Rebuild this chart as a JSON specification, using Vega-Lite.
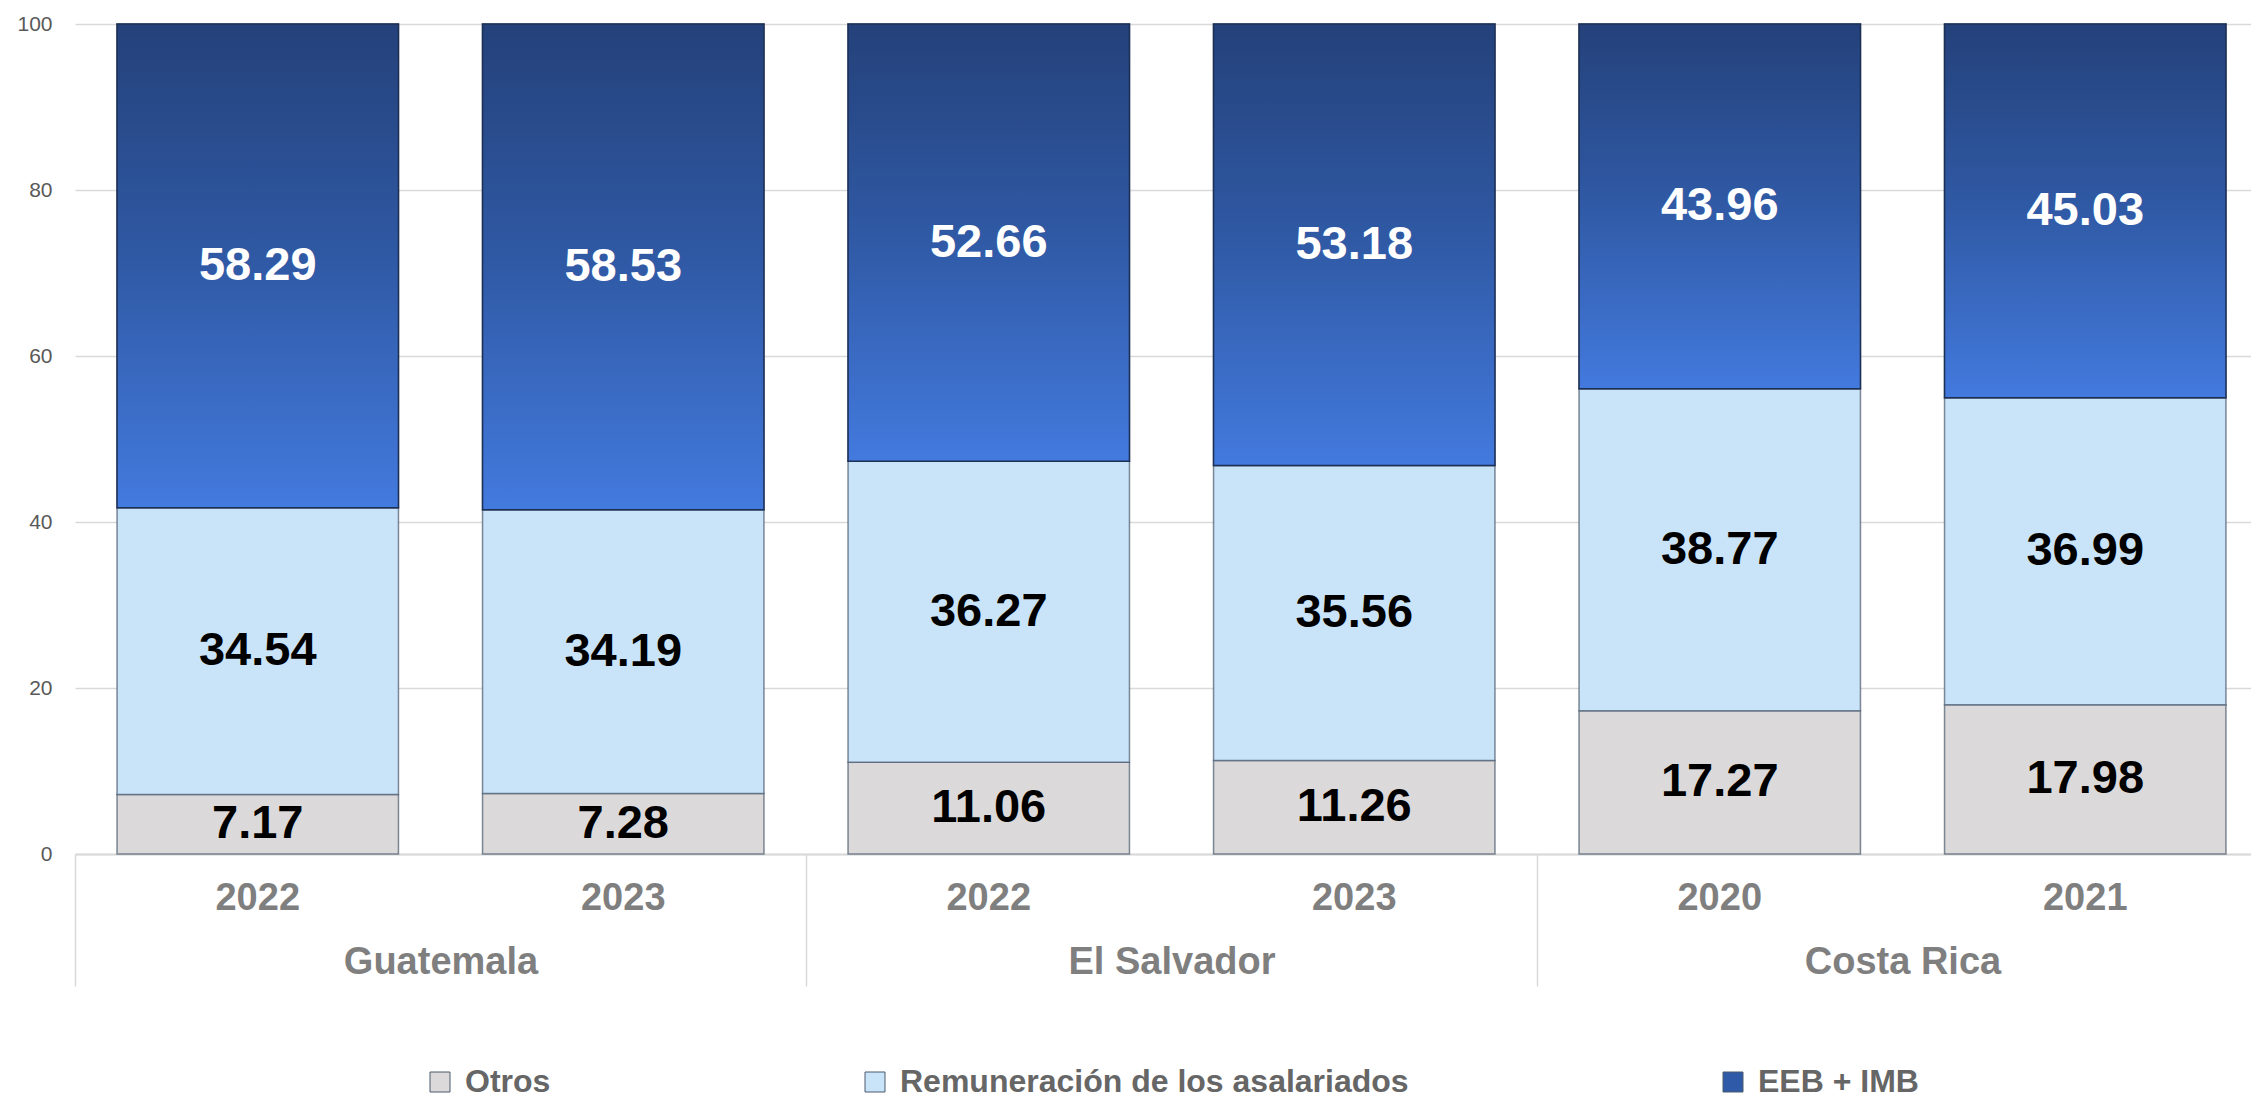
{
  "$schema": "https://vega.github.io/schema/vega-lite/v6.json",
  "autosize": "none",
  "padding": {"left": 75, "top": 24, "right": 0, "bottom": 246},
  "width": 2176,
  "height": 830,
  "background": "white",
  "config": {"font": "Liberation Sans", "view": {"stroke": null}},
  "data": {"values": [
    {"pais": "Guatemala", "anio": "2022", "clave": "Guatemala|2022", "componente": "Otros", "orden": 1, "valor": 7.17},
    {"pais": "Guatemala", "anio": "2022", "clave": "Guatemala|2022", "componente": "Remuneración de los asalariados", "orden": 2, "valor": 34.54},
    {"pais": "Guatemala", "anio": "2022", "clave": "Guatemala|2022", "componente": "EEB + IMB", "orden": 3, "valor": 58.29},
    {"pais": "Guatemala", "anio": "2023", "clave": "Guatemala|2023", "componente": "Otros", "orden": 1, "valor": 7.28},
    {"pais": "Guatemala", "anio": "2023", "clave": "Guatemala|2023", "componente": "Remuneración de los asalariados", "orden": 2, "valor": 34.19},
    {"pais": "Guatemala", "anio": "2023", "clave": "Guatemala|2023", "componente": "EEB + IMB", "orden": 3, "valor": 58.53},
    {"pais": "El Salvador", "anio": "2022", "clave": "El Salvador|2022", "componente": "Otros", "orden": 1, "valor": 11.06},
    {"pais": "El Salvador", "anio": "2022", "clave": "El Salvador|2022", "componente": "Remuneración de los asalariados", "orden": 2, "valor": 36.27},
    {"pais": "El Salvador", "anio": "2022", "clave": "El Salvador|2022", "componente": "EEB + IMB", "orden": 3, "valor": 52.66},
    {"pais": "El Salvador", "anio": "2023", "clave": "El Salvador|2023", "componente": "Otros", "orden": 1, "valor": 11.26},
    {"pais": "El Salvador", "anio": "2023", "clave": "El Salvador|2023", "componente": "Remuneración de los asalariados", "orden": 2, "valor": 35.56},
    {"pais": "El Salvador", "anio": "2023", "clave": "El Salvador|2023", "componente": "EEB + IMB", "orden": 3, "valor": 53.18},
    {"pais": "Costa Rica", "anio": "2020", "clave": "Costa Rica|2020", "componente": "Otros", "orden": 1, "valor": 17.27},
    {"pais": "Costa Rica", "anio": "2020", "clave": "Costa Rica|2020", "componente": "Remuneración de los asalariados", "orden": 2, "valor": 38.77},
    {"pais": "Costa Rica", "anio": "2020", "clave": "Costa Rica|2020", "componente": "EEB + IMB", "orden": 3, "valor": 43.96},
    {"pais": "Costa Rica", "anio": "2021", "clave": "Costa Rica|2021", "componente": "Otros", "orden": 1, "valor": 17.98},
    {"pais": "Costa Rica", "anio": "2021", "clave": "Costa Rica|2021", "componente": "Remuneración de los asalariados", "orden": 2, "valor": 36.99},
    {"pais": "Costa Rica", "anio": "2021", "clave": "Costa Rica|2021", "componente": "EEB + IMB", "orden": 3, "valor": 45.03}
  ]},
  "resolve": {"scale": {"x": "independent"}, "axis": {"x": "independent"}},
  "layer": [
    {
      "encoding": {
        "x": {
          "field": "clave", "type": "nominal", "sort": null,
          "scale": {"range": [0, 2193], "paddingInner": 0.23, "paddingOuter": 0.115},
          "axis": {
            "orient": "bottom", "title": null, "labelAngle": 0,
            "labelExpr": "split(datum.label, '|')[1]",
            "labelFont": "Liberation Sans", "labelFontWeight": "bold", "labelFontSize": 38,
            "labelColor": "#7f7f7f", "ticks": false, "tickSize": 0,
            "labelBaseline": "middle", "labelPadding": 44,
            "domain": true, "domainColor": "#d9d9d9", "domainWidth": 2, "grid": false
          }
        },
        "y": {
          "field": "valor", "type": "quantitative", "stack": "zero",
          "scale": {"domain": [0, 100]},
          "axis": {
            "title": null, "values": [0, 20, 40, 60, 80, 100],
            "labelFontSize": 21, "labelColor": "#595959", "labelPadding": 23,
            "domain": false, "ticks": false, "grid": true, "gridColor": "#d9d9d9", "gridWidth": 1.5
          }
        },
        "order": {"field": "orden", "type": "quantitative"}
      },
      "layer": [
        {
          "mark": {"type": "bar", "stroke": "#4a5a6c", "strokeWidth": 1.5, "strokeOpacity": 0.7},
          "encoding": {
            "color": {
              "field": "componente", "type": "nominal",
              "sort": ["Otros", "Remuneración de los asalariados", "EEB + IMB"],
              "scale": {"domain": ["Otros", "Remuneración de los asalariados", "EEB + IMB"], "range": ["#dbd9da", "#c9e3f8", "#2f5aa8"]},
              "legend": {
                "title": null, "orient": "none", "direction": "horizontal",
                "legendX": 349, "legendY": 1042,
                "symbolType": "square", "symbolSize": 400,
                "symbolStrokeColor": "#4a5a6c", "symbolStrokeWidth": 1,
                "labelFont": "Liberation Sans", "labelFontWeight": "bold", "labelFontSize": 32,
                "labelColor": "#666666", "labelOffset": 9, "columnPadding": 308,
                "labelLimit": 800
              }
            }
          }
        },
        {
          "mark": {
            "type": "bar",
            "fill": {"gradient": "linear", "x1": 0, "y1": 0, "x2": 0, "y2": 1,
              "stops": [{"offset": 0, "color": "#24417a"}, {"offset": 0.5, "color": "#305aa6"}, {"offset": 1, "color": "#437ade"}]},
            "stroke": "#1c2f55", "strokeWidth": 1.5
          },
          "encoding": {
            "detail": {"field": "componente"},
            "opacity": {"condition": {"test": "datum.componente === 'EEB + IMB'", "value": 1}, "value": 0}
          }
        },
        {
          "mark": {"type": "text", "font": "Liberation Sans", "fontWeight": "bold", "fontSize": 47, "baseline": "middle", "align": "center"},
          "encoding": {
            "y": {"field": "valor", "type": "quantitative", "stack": "zero", "bandPosition": 0.5},
            "detail": {"field": "componente"},
            "text": {"field": "valor", "type": "quantitative", "format": ".2f"},
            "color": {"condition": {"test": "datum.componente === 'EEB + IMB'", "value": "white"}, "value": "black"}
          }
        }
      ]
    },
    {
      "mark": {"type": "rule", "opacity": 0},
      "encoding": {
        "x": {
          "field": "pais", "type": "nominal", "sort": null,
          "scale": {"range": [0, 2193], "paddingInner": 0, "paddingOuter": 0},
          "axis": {
            "orient": "bottom", "title": null, "labelAngle": 0,
            "labelFont": "Liberation Sans", "labelFontWeight": "bold", "labelFontSize": 38,
            "labelColor": "#7f7f7f", "ticks": true, "tickBand": "extent", "tickSize": 132,
            "tickColor": "#d9d9d9", "tickWidth": 1.5, "labelLimit": 700,
            "labelBaseline": "middle", "labelPadding": -24,
            "domain": false, "grid": false
          }
        }
      }
    }
  ]
}
